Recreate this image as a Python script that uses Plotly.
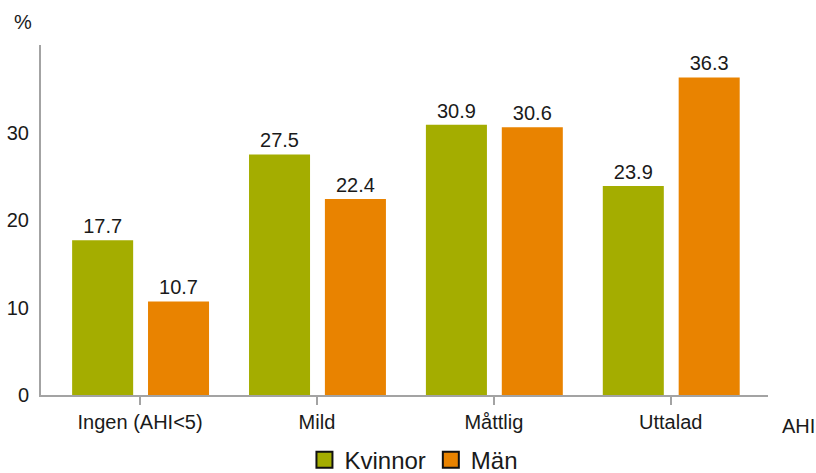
import plotly.graph_objects as go

# AHI severity categories
categories = ["Ingen (AHI<5)", "Mild", "Måttlig", "Uttalad"]
kvinnor = [17.7, 27.5, 30.9, 23.9]
man = [10.7, 22.4, 30.6, 36.3]
y_ticks = [0, 10, 20, 30]

GREEN = "#a4ad00"
ORANGE = "#e98300"
TEXT = "#1a1a1a"
AXIS = "#a3a3a3"
FONT = "Liberation Sans, Arial, sans-serif"

fig = go.Figure()

bar_width = 0.345
for name, vals, color, off in [
    ("Kvinnor", kvinnor, GREEN, -0.384),
    ("Män", man, ORANGE, 0.045),
]:
    fig.add_trace(go.Bar(
        x=list(range(len(categories))), y=vals, name=name,
        marker=dict(color=color, line=dict(width=0)),
        width=bar_width, offset=off,
        text=[f"{v:.1f}" for v in vals], textposition="outside",
        textfont=dict(size=20, color=TEXT, family=FONT),
        cliponaxis=False, showlegend=False, hoverinfo="skip",
    ))
    # legend swatch with dark outline
    fig.add_trace(go.Scatter(
        x=[None], y=[None], mode="markers", name=name,
        marker=dict(symbol="square", size=16, color=color,
                    line=dict(color="#111111", width=2)),
        showlegend=True,
    ))

fig.update_layout(
    width=816, height=473,
    margin=dict(l=41, r=48, t=45, b=78, autoexpand=False),
    paper_bgcolor="white", plot_bgcolor="white",
    barmode="overlay",
    font=dict(family=FONT, size=20, color=TEXT),
    legend=dict(
        orientation="h", x=0.513, xanchor="center",
        yref="container", y=0.027, yanchor="middle",
        font=dict(size=24, color=TEXT, family=FONT),
        itemclick=False, traceorder="normal",
        itemwidth=30, tracegroupgap=0,
    ),
    xaxis=dict(
        range=[-0.56, 3.55],
        tickvals=list(range(len(categories))), ticktext=categories,
        showline=True, linecolor=AXIS, linewidth=2,
        ticks="outside", ticklen=8, tickcolor=AXIS, tickwidth=1.5,
        showgrid=False, zeroline=False, automargin=False,
        tickfont=dict(size=20, color=TEXT, family=FONT),
    ),
    yaxis=dict(
        range=[0, 40], tickvals=y_ticks,
        showline=True, linecolor=AXIS, linewidth=2,
        ticks="", ticklabelstandoff=6,
        showgrid=False, zeroline=False, automargin=False,
        tickfont=dict(size=20, color=TEXT, family=FONT),
    ),
    annotations=[
        dict(text="%", xref="paper", yref="paper", x=-0.04, y=1.0,
             xanchor="left", yanchor="bottom", yshift=10, showarrow=False,
             font=dict(size=20, color=TEXT, family=FONT)),
        dict(text="AHI", xref="paper", yref="paper", x=1.0, y=0,
             xanchor="left", yanchor="top", xshift=12, yshift=-18,
             showarrow=False, font=dict(size=20, color=TEXT, family=FONT)),
    ],
)

fig.write_html("out.html")
